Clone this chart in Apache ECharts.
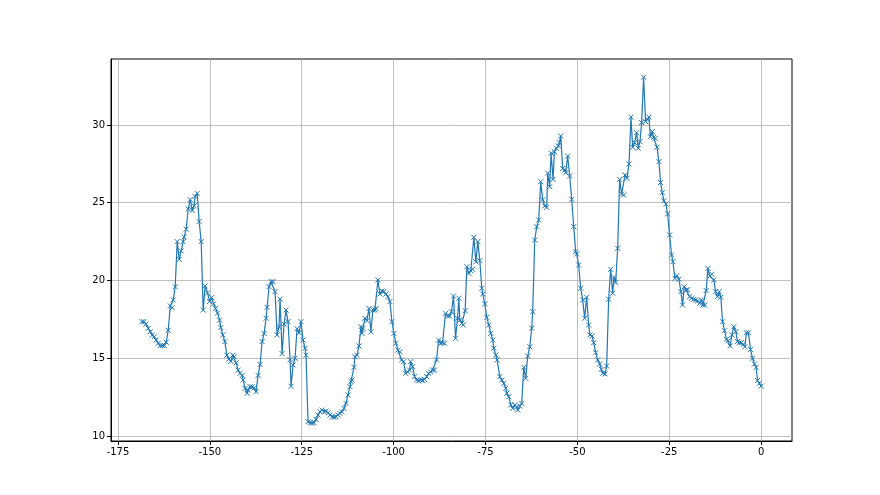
<!DOCTYPE html>
<html>
<head>
<meta charset="utf-8">
<script src="https://cdn.jsdelivr.net/npm/echarts@6/dist/echarts.min.js"></script>
<style>html,body{margin:0;padding:0;background:#fff;}#c{width:880px;height:495px;}</style>
</head>
<body>
<div id="c"></div>
<script>
const xValues = [
-168.48,-167.93,-167.39,-166.76,-166.22,-165.67,-165.13,-164.59,-164.04,-163.5,-162.96,-162.41,-161.87,-161.32,-160.78,-160.24,-159.97,-159.43,-158.89,-158.34,-157.8,-157.26,-156.99,-156.44,-155.9,-155.35,-154.81,-154.27,-154.0,-153.45,-152.91,-152.36,-151.82,-151.28,-150.63,-150.08,-149.54,-149.0,-148.45,-147.91,-147.37,
-147.01,-146.47,-145.92,-145.38,-144.84,-144.29,-143.75,-143.39,-142.85,-142.31,-141.77,-141.22,-140.95,-140.41,-139.86,-139.59,-139.05,-138.51,-137.96,-137.42,-136.88,-136.33,-135.79,-135.24,-134.7,-134.43,-133.89,-133.34,-132.8,-132.26,-131.71,-131.17,-130.9,-130.35,-129.81,-129.27,-128.72,-128.18,-127.91,-127.36,-126.82,-126.28,-125.73,-125.19,-124.65,-124.1,-123.83,-123.29,
-122.74,-122.2,-121.66,-121.11,-120.57,-120.03,-119.48,-118.94,-118.4,-117.85,-117.31,-116.77,-116.22,-115.68,-115.14,-114.59,-114.05,-113.51,-112.96,-112.42,-111.88,-111.6,-111.33,-110.79,-110.52,-109.97,-109.43,-108.89,-108.61,-108.34,-107.8,-107.26,-106.71,-106.17,-105.63,-105.08,-104.81,-104.27,-103.72,-103.18,-102.64,-102.09,-101.55,-101.01,-100.46,-99.92,-99.38,-98.83,-98.29,
-97.83,-97.28,-96.74,-96.2,-95.65,-95.38,-94.84,-94.29,-93.75,-93.21,-92.66,-92.12,-91.58,-91.03,-90.49,-89.95,-89.4,-88.86,-88.32,-87.77,-87.23,-86.68,-86.14,-85.87,-85.33,-84.78,-84.24,-83.7,-83.15,-82.61,-82.25,-81.98,-81.44,-81.07,-80.53,-80.07,-79.53,-78.99,-78.53,-78.17,-77.63,-77.09,-76.55,-76.0,-75.73,-75.19,-74.65,-74.1,
-73.56,-73.02,-72.74,-72.2,-71.83,-71.11,-70.57,-70.03,-69.48,-69.21,-68.67,-68.12,-67.58,-67.04,-66.49,-66.22,-65.68,-65.14,-64.59,-64.05,-63.51,-62.96,-62.42,-62.15,-61.6,-61.06,-60.52,-59.97,-59.43,-58.89,-58.34,-58.07,-57.53,-57.15,-56.61,-56.25,-55.71,-55.16,-54.89,-54.53,-53.99,-53.44,-53.17,-52.63,-52.09,-51.55,-51.0,-50.46,-50.19,-49.65,-49.1,
-48.56,-48.02,-47.47,-46.93,-46.56,-46.01,-45.56,-45.02,-44.48,-43.93,-43.48,-43.03,-42.48,-42.03,-41.49,-40.94,-40.4,-40.03,-39.58,-39.04,-38.5,-37.95,-37.41,-37.04,-36.5,-35.95,-35.41,-34.96,-34.42,-33.88,-33.42,-32.97,-32.52,-31.98,-31.44,-30.89,-30.53,-30.16,-29.62,-29.26,-28.8,-28.35,-27.81,-27.36,-26.9,-26.45,-25.91,-25.45,-24.91,
-24.37,-24.0,-23.46,-22.92,-22.37,-21.83,-21.38,-20.92,-20.38,-20.02,-19.47,-18.93,-18.39,-17.84,-17.3,-16.76,-16.21,-15.85,-15.31,-14.95,-14.49,-13.95,-13.41,-12.86,-12.41,-11.87,-11.41,-10.96,-10.5,-9.96,-9.42,-8.97,-8.42,-7.97,-7.43,-6.88,-6.43,-5.98,-5.43,-4.89,-4.44,-3.99,-3.44,-2.9,-2.36,-1.81,-1.36,-0.99,-0.45,0.0
];
const yValues = [
17.35,17.35,17.2,16.93,16.71,16.5,16.39,16.17,15.96,15.81,15.81,15.81,16.03,16.8,18.36,18.25,18.75,19.6,22.5,21.36,21.9,22.5,22.8,23.3,24.6,25.2,24.5,24.8,25.4,25.6,23.8,22.5,18.1,19.65,19.2,18.65,18.9,18.5,18.2,17.9,17.45,
16.97,16.5,16.07,15.2,14.95,14.8,15.2,15.1,14.7,14.24,14.03,13.9,13.6,13.07,12.75,12.96,13.17,13.17,13.1,12.85,13.9,14.6,16.07,16.6,17.57,18.28,19.6,19.92,19.92,19.28,16.5,17.03,18.8,15.3,17.2,18.1,17.35,14.9,13.2,14.57,15.0,16.9,16.64,17.35,16.17,15.64,15.2,10.92,
10.86,10.82,10.86,11.07,11.35,11.56,11.67,11.56,11.6,11.5,11.35,11.24,11.2,11.24,11.35,11.46,11.56,11.78,12.1,12.64,13.17,13.5,13.6,14.42,15.1,15.2,15.79,17.03,16.6,16.93,17.57,17.42,18.2,16.7,18.1,18.1,18.2,20.03,19.13,19.32,19.3,19.13,18.96,18.64,17.35,16.6,15.96,15.53,15.42,
14.89,14.78,14.03,14.13,14.24,14.78,14.46,13.82,13.6,13.54,13.6,13.56,13.64,13.82,14.03,14.13,14.24,14.24,14.89,16.17,15.96,16.0,15.96,17.89,17.72,17.72,17.99,19.0,16.28,17.57,18.86,17.46,17.25,17.14,18.06,20.89,20.46,20.63,20.72,22.78,21.2,22.5,21.28,19.5,19.13,18.49,17.63,17.14,
16.6,16.17,15.64,15.21,14.89,13.82,13.6,13.39,13.07,12.75,12.53,12.0,11.78,12.0,11.89,11.67,11.93,12.1,14.42,13.71,15.14,15.74,16.93,17.99,22.6,23.46,23.89,26.35,25.18,24.79,24.7,26.9,26.03,28.18,26.5,28.28,28.5,28.65,28.86,29.29,27.2,27.1,26.93,28.0,26.72,25.22,23.46,21.85,21.7,21.0,19.5,
18.75,17.57,18.92,17.14,16.5,16.43,16.0,15.36,14.89,14.63,14.29,14.03,13.99,14.5,18.79,20.72,19.18,20.2,19.86,22.07,26.5,25.56,25.5,26.78,26.57,27.49,30.5,28.57,28.86,29.5,28.5,28.93,30.15,33.07,30.21,30.36,30.5,29.25,29.57,29.21,29.14,28.57,27.64,26.3,25.65,25.13,24.92,24.28,22.93,
21.64,21.21,20.14,20.31,20.08,19.28,18.42,19.6,19.39,19.4,18.96,18.86,18.79,18.75,18.68,18.53,18.75,18.42,18.42,19.35,20.78,20.29,20.4,20.03,19.28,18.96,19.28,18.92,17.35,16.77,16.22,16.13,15.79,16.5,17.03,16.71,16.07,16.0,16.0,15.9,15.74,16.64,16.64,15.57,15.0,14.63,14.42,13.57,13.39,13.21
];
const xTicks = [-175, -150, -125, -100, -75, -50, -25, 0];
const yTicks = [10, 15, 20, 25, 30];

const points = xValues.map((x, i) => [x, yValues[i]]);
const chart = echarts.init(document.getElementById('c'), null, {renderer: 'canvas'});
const axisCommon = {
  axisLine: {show: true, onZero: false, lineStyle: {color: '#000', width: 1}},
  axisTick: {show: true, inside: false, length: 4, lineStyle: {color: '#000', width: 1}},
  axisLabel: {color: '#000', fontSize: 10, fontFamily: 'DejaVu Sans'},
  splitLine: {show: true, lineStyle: {color: '#b0b0b0', width: 0.8}}
};
chart.setOption({
  animation: false,
  backgroundColor: '#fff',
  grid: {left: 111, right: 88, top: 59, bottom: 54, show: true, borderColor: '#000', borderWidth: 1, backgroundColor: 'transparent'},
  xAxis: {
    type: 'value', min: -176.9, max: 8.4,
    axisLine: axisCommon.axisLine,
    axisTick: Object.assign({}, axisCommon.axisTick, {customValues: xTicks}),
    axisLabel: Object.assign({}, axisCommon.axisLabel, {customValues: xTicks, margin: 6}),
    splitLine: axisCommon.splitLine
  },
  yAxis: {
    type: 'value', min: 9.68, max: 34.24,
    axisLine: axisCommon.axisLine,
    axisTick: Object.assign({}, axisCommon.axisTick, {customValues: yTicks}),
    axisLabel: Object.assign({}, axisCommon.axisLabel, {customValues: yTicks, margin: 6}),
    splitLine: axisCommon.splitLine
  },
  series: [{
    type: 'line',
    data: points,
    symbol: 'path://M0,0L10,10M10,0L0,10',
    symbolSize: 5,
    showAllSymbol: true,
    lineStyle: {color: '#1f77b4', width: 1.2},
    itemStyle: {color: 'rgba(0,0,0,0)', borderColor: '#1f77b4', borderWidth: 1},
    emphasis: {disabled: true}
  }]
});
</script>
</body>
</html>
